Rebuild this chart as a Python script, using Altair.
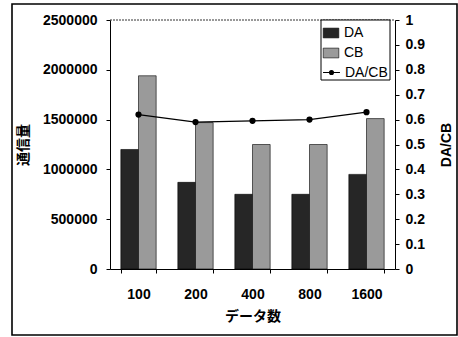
import altair as alt
import pandas as pd

# Data counts on the x axis
categories = ["100", "200", "400", "800", "1600"]
# Traffic volume per method
da_values = [1200000, 870000, 750000, 750000, 950000]
cb_values = [1940000, 1470000, 1250000, 1250000, 1510000]
# DA/CB ratio
ratio_values = [0.62, 0.59, 0.595, 0.60, 0.63]

bar_series = ["DA", "CB"]
bar_colors = ["#262626", "#9a9a9a"]
ratio_name = "DA/CB"

bars_df = pd.DataFrame(
    [{"n": c, "series": "DA", "value": v} for c, v in zip(categories, da_values)]
    + [{"n": c, "series": "CB", "value": v} for c, v in zip(categories, cb_values)]
)
line_df = pd.DataFrame(
    {"n": categories, "ratio": ratio_values, "label": [ratio_name] * len(categories)}
)

W, H = 285, 249
NUM_FONT = "Liberation Sans"
JP_FONT = "Noto Sans CJK JP"

x_enc = alt.X(
    "n:N",
    sort=categories,
    scale=alt.Scale(paddingInner=0.38, paddingOuter=0.19),
    axis=alt.Axis(
        title="データ数",
        labelAngle=0,
        tickBand="extent",
        tickSize=4,
        labelPadding=14,
        titlePadding=8,
        domainColor="black",
        tickColor="black",
        labelFont=NUM_FONT,
        labelFontSize=14,
        labelFontWeight="bold",
        labelColor="black",
        titleFont=JP_FONT,
        titleFontSize=14,
        titleFontWeight="bold",
        titleColor="black",
    ),
)

# Legend symbol shapes: a filled rectangle for bars, a stroke with a dot for the line
RECT_PATH = "M-1.2,-0.75H1.2V0.75H-1.2Z"
LINE_PATH = "M-1.3,0H1.3M-0.3,0A0.3,0.3 0 1,0 0.3,0A0.3,0.3 0 1,0 -0.3,0"

legend_common = dict(
    title=None,
    orient="none",
    legendX=208,
    padding=6,
    rowPadding=6,
    labelFont=NUM_FONT,
    labelFontSize=14,
    labelColor="black",
    symbolSize=169,
    symbolStrokeColor="black",
    labelOffset=6,
    symbolOffset=0,
)

bar_legend = alt.Legend(
    legendY=0,
    symbolType=RECT_PATH,
    symbolStrokeWidth=0.6,
    **legend_common,
)

line_legend = alt.Legend(
    legendY=39,
    symbolType=LINE_PATH,
    symbolStrokeWidth=1.2,
    symbolFillColor="black",
    **legend_common,
)

bars = alt.Chart(bars_df).mark_bar(stroke="black", strokeWidth=0.6).encode(
    x=x_enc,
    xOffset=alt.XOffset("series:N", sort=bar_series),
    y=alt.Y(
        "value:Q",
        scale=alt.Scale(domain=[0, 2500000]),
        axis=alt.Axis(
            title="通信量",
            values=[0, 500000, 1000000, 1500000, 2000000, 2500000],
            format="d",
            grid=False,
            tickSize=4,
            labelPadding=9,
            titlePadding=12,
            domainColor="black",
            tickColor="black",
            labelFont=NUM_FONT,
            labelFontSize=14,
            labelFontWeight="bold",
            labelColor="black",
            titleFont=JP_FONT,
            titleFontSize=14,
            titleFontWeight="bold",
            titleColor="#000000",
        ),
    ),
    color=alt.Color(
        "series:N",
        scale=alt.Scale(domain=bar_series, range=bar_colors),
        legend=bar_legend,
    ),
)

line = alt.Chart(line_df).mark_line(
    strokeWidth=1.2,
    point=alt.OverlayMarkDef(filled=True, size=18, color="black"),
).encode(
    x=alt.X("n:N", sort=categories),
    y=alt.Y(
        "ratio:Q",
        scale=alt.Scale(domain=[0, 1]),
        axis=alt.Axis(
            orient="right",
            title="DA/CB",
            titleAngle=270,
            titleBaseline="middle",
            values=[0, 0.1, 0.2, 0.3, 0.4, 0.5, 0.6, 0.7, 0.8, 0.9, 1],
            format="~g",
            grid=False,
            tickSize=4,
            labelPadding=6,
            titlePadding=22,
            domainColor="black",
            tickColor="black",
            labelFont=NUM_FONT,
            labelFontSize=14,
            labelFontWeight="bold",
            labelColor="black",
            titleFont=NUM_FONT,
            titleFontSize=14,
            titleFontWeight="bold",
            titleColor="black",
        ),
    ),
    stroke=alt.Stroke(
        "label:N",
        scale=alt.Scale(domain=[ratio_name], range=["black"]),
        legend=line_legend,
    ),
)

# Box around the legend entries
legend_box = alt.Chart(alt.Data(values=[{}])).mark_rect(
    fill="white", stroke="black", strokeWidth=1
).encode(x=alt.value(211), x2=alt.value(280), y=alt.value(0), y2=alt.value(60))

# Dotted top edge of the plot area
top_edge = alt.Chart(alt.Data(values=[{}])).mark_rule(
    color="#333333", strokeWidth=1, strokeDash=[2, 1]
).encode(x=alt.value(0), x2=alt.value(W), y=alt.value(0))

# Outer frame around the whole figure
frame = alt.Chart(alt.Data(values=[{}])).mark_rect(
    fill=None, stroke="black", strokeWidth=1.6, clip=False
).encode(
    x=alt.value(-98), x2=alt.value(347), y=alt.value(-16), y2=alt.value(315)
)

chart = (
    alt.layer(bars, line, top_edge, legend_box, frame)
    .resolve_scale(y="independent")
    .properties(
        width=W,
        height=H,
        autosize=alt.AutoSizeParams(type="none"),
        padding={"left": 110, "top": 20, "right": 63, "bottom": 68},
        background="white",
    )
    .configure_view(stroke=None)
)

chart.save("out.html", embed_options={"renderer": "svg", "actions": False})
